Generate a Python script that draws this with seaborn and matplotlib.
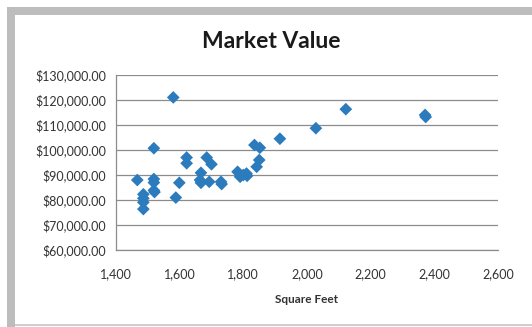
import pandas as pd
import numpy as np
import matplotlib
matplotlib.use("Agg")
import matplotlib.pyplot as plt
import seaborn as sns
from matplotlib.ticker import FuncFormatter
from matplotlib.patches import Rectangle

# Dados
square_feet = [1580, 2122, 2371, 2373, 2028, 1915, 1835, 1852, 1519, 1622,
               1622, 1685, 1700, 1850, 1842, 1467, 1519, 1519, 1519, 1521,
               1486, 1486, 1486, 1486, 1588, 1599, 1667, 1664, 1667, 1693,
               1730, 1732, 1782, 1790, 1810, 1812, 1800]
market_value = [121000, 116300, 114000, 113200, 108700, 104500, 102000, 100900, 100700, 97000,
                94700, 97000, 94300, 96000, 93300, 88000, 88400, 87000, 83900, 83200,
                82300, 80700, 79100, 76400, 81000, 86900, 90900, 88000, 86900, 87300,
                87300, 86400, 91300, 89300, 90600, 89700, 90000]

df = pd.DataFrame({"Square Feet": square_feet, "Market Value": market_value})

sns.set_style("white")
plt.rcParams["font.family"] = ["Lato", "DejaVu Sans"]

W, H = 532, 327
fig = plt.figure(figsize=(W / 100, H / 100), dpi=100)

# moldura cinza (em pixels da figura)
def px_rect(x0, y0, x1, y1, color):
    fig.patches.append(Rectangle((x0 / W, 1 - y1 / H), (x1 - x0) / W, (y1 - y0) / H,
                                 transform=fig.transFigure, facecolor=color,
                                 edgecolor="none", zorder=0))

px_rect(7, 7, W, 15, "#bdbdbd")
px_rect(7, 7, 15, H, "#bdbdbd")
px_rect(15, 324, W, 326, "#cfcfcf")

ax = fig.add_axes([0.218, 0.235, 0.718, 0.536])

sns.scatterplot(data=df, x="Square Feet", y="Market Value", marker="D", s=42,
                color="#2b7bbd", edgecolor="none", ax=ax)

ax.set_xlim(1400, 2600)
ax.set_ylim(60000, 130000)
ax.set_xticks(np.arange(1400, 2601, 200))
ax.set_yticks(np.arange(60000, 130001, 10000))
ax.xaxis.set_major_formatter(FuncFormatter(lambda v, p: f"{v:,.0f}"))
ax.yaxis.set_major_formatter(FuncFormatter(lambda v, p: f"${v:,.2f}"))
ax.grid(axis="y", color="#8c8c8c", linewidth=0.9)
ax.set_axisbelow(True)
for s in ["top", "right"]:
    ax.spines[s].set_visible(False)
for s in ["left", "bottom"]:
    ax.spines[s].set_color("#8c8c8c")
    ax.spines[s].set_linewidth(0.9)
ax.tick_params(axis="both", direction="out", length=4, width=0.8, color="#8c8c8c",
               labelsize=9, labelcolor="#333333", pad=3)
ax.tick_params(axis="x", pad=9)
ax.set_ylabel("")
ax.set_xlabel("Square Feet", fontsize=8.5, fontweight="bold", color="#333333", labelpad=10)
fig.text(271 / W, 1 - 42 / H, "Market Value", fontsize=16.5, fontweight="bold",
         color="#1a1a1a", ha="center", va="center")

fig.savefig("out.png", dpi=100)
